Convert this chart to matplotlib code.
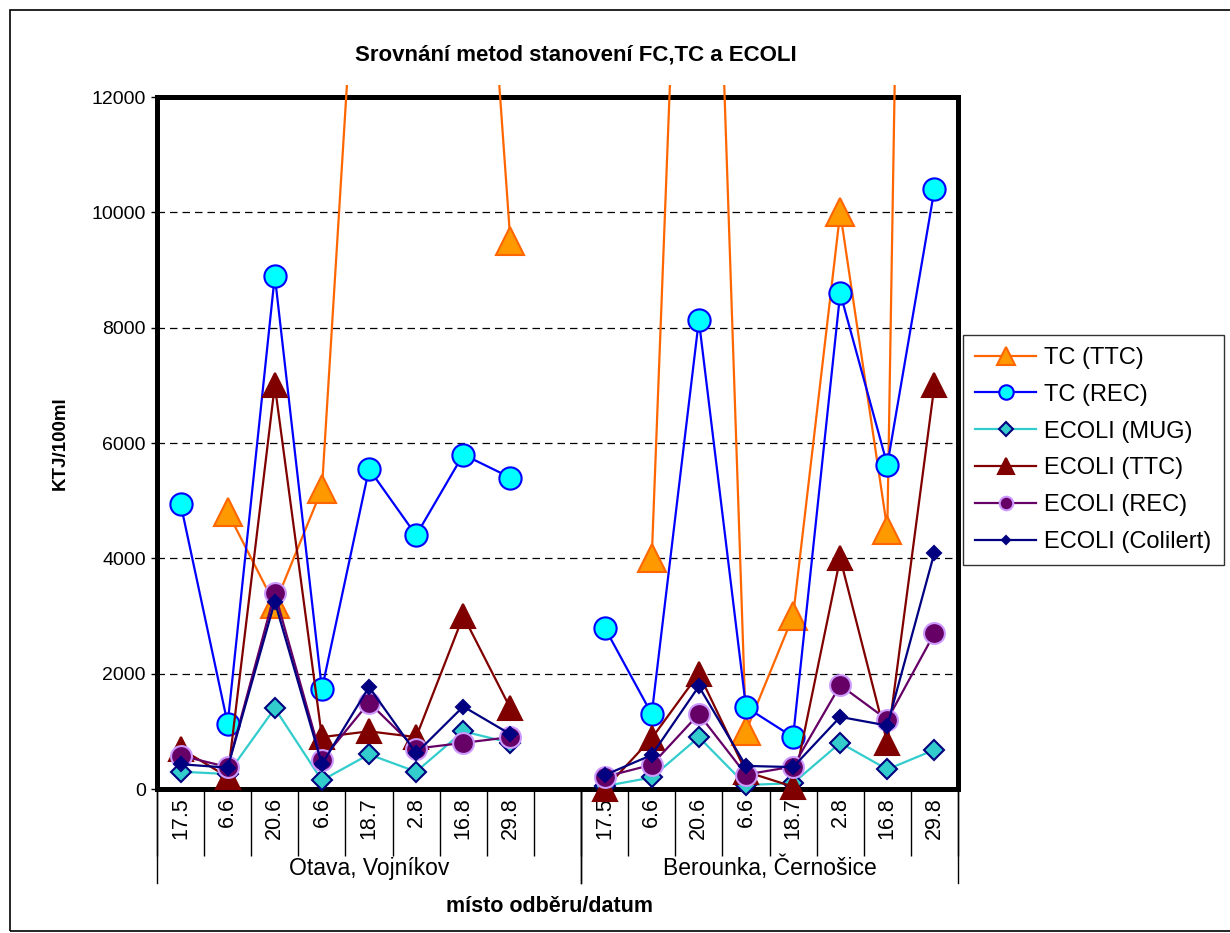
import numpy as np
import matplotlib
matplotlib.use('Agg')
import matplotlib.pyplot as plt
from matplotlib.patches import Rectangle
from matplotlib.transforms import Bbox, TransformedBbox

# ----- data -----
nan = np.nan
dates = ['17.5', '6.6', '20.6', '6.6', '18.7', '2.8', '16.8', '29.8', '',
         '17.5', '6.6', '20.6', '6.6', '18.7', '2.8', '16.8', '29.8']
groups = ['Otava, Vojníkov', 'Berounka, Černošice']
group_slots = [(0, 8), (9, 16)]

tc_ttc = [nan, 4800, 3200, 5200, 18400, 20000, 21000, 9500, nan,
          nan, 4000, 25300, 1000, 3000, 10000, 4500, 54000]
tc_rec = [4950, 1130, 8900, 1730, 5550, 4400, 5800, 5400, nan,
          2800, 1300, 8130, 1420, 900, 8600, 5620, 10400]
ecoli_mug = [300, 260, 1400, 150, 600, 300, 1000, 800, nan,
             50, 200, 900, 70, 100, 800, 340, 680]
ecoli_ttc = [700, 210, 7000, 900, 1000, 900, 3000, 1400, nan,
             0, 880, 2000, 300, 40, 4000, 800, 7000]
ecoli_rec = [580, 380, 3400, 500, 1500, 700, 800, 900, nan,
             210, 420, 1300, 250, 390, 1800, 1200, 2700]
ecoli_colilert = [430, 370, 3250, 430, 1770, 620, 1430, 950, nan,
                  240, 590, 1780, 400, 380, 1250, 1100, 4100]

plt.rcParams['font.family'] = ['Liberation Sans', 'DejaVu Sans']

W, H = 1230, 933
fig = plt.figure(figsize=(W / 100, H / 100), dpi=100)

# plot area in pixels
x0, x1, ytop, ybot = 157, 958, 97, 789
ax = fig.add_axes([x0 / W, 1 - ybot / H, (x1 - x0) / W, (ybot - ytop) / H])

x = np.arange(len(dates))

series = [
    (tc_ttc, 'TC (TTC)', dict(color='#FF6600', marker='^', ms=20, mfc='#FF9900', mec='#FF6600')),
    (tc_rec, 'TC (REC)', dict(color='#0000FF', marker='o', ms=16, mfc='#00FFFF', mec='#0000FF')),
    (ecoli_mug, 'ECOLI (MUG)', dict(color='#33CCCC', marker='D', ms=10.5, mfc='#33CCCC', mec='#000080')),
    (ecoli_ttc, 'ECOLI (TTC)', dict(color='#800000', marker='^', ms=17, mfc='#800000', mec='#800000')),
    (ecoli_rec, 'ECOLI (REC)', dict(color='#660066', marker='o', ms=15, mfc='#660066', mec='#CC99FF')),
    (ecoli_colilert, 'ECOLI (Colilert)', dict(color='#000080', marker='D', ms=7, mfc='#000080', mec='#000080')),
]

# let lines run a little past the top of the plot area, as in the original
clipbox = TransformedBbox(Bbox([[0, -0.05], [1, 1.0175]]), ax.transAxes)
lines = []
for i, (vals, lab, st) in enumerate(series):
    ln, = ax.plot(x, vals, lw=1.6, mew=1.5, label=lab, zorder=3 + i, **st)
    ln.set_clip_box(clipbox)
    lines.append(ln)

ax.set_xlim(-0.5, len(dates) - 0.5)
ax.set_ylim(0, 12000)
ax.set_yticks(np.arange(0, 12001, 2000))
ax.tick_params(axis='y', labelsize=14, length=4, width=1, pad=4)
ax.yaxis.grid(True, color='black', ls=(0, (6, 4)), lw=0.9)
ax.set_axisbelow(True)
for s in ax.spines.values():
    s.set_linewidth(3.6)
    s.set_zorder(2.5)

# category dividers as long major ticks, labels on minor ticks
ax.set_xticks(np.arange(-0.5, len(dates)), labels=[])
ax.tick_params(axis='x', which='major', length=48, width=1, color='black', direction='out')
ax.set_xticks(x, labels=dates, minor=True)
ax.tick_params(axis='x', which='minor', length=0, labelsize=15.5, labelrotation=90, pad=6)
for t in ax.get_xticklabels(minor=True):
    t.set_va('top')

# group separators and group labels
trans = ax.get_xaxis_transform()
sep_len = (883 - ybot) / (ybot - ytop)
for a, b in group_slots:
    for xs in (a - 0.5, b + 0.5):
        ax.plot([xs, xs], [0, -sep_len], color='black', lw=1, transform=trans, clip_on=False)
for (a, b), g in zip(group_slots, groups):
    ax.text((a + b) / 2, -(868 - ybot) / (ybot - ytop), g, transform=trans, ha='center', va='center',
            fontsize=16.5)

fig.text(576 / W, 1 - 55 / H, 'Srovnání metod stanovení FC,TC a ECOLI', ha='center', va='center',
         fontsize=16, fontweight='bold')
fig.text(550 / W, 1 - 907 / H, 'místo odběru/datum', ha='center', va='center',
         fontsize=15.5, fontweight='bold')
fig.text(60 / W, 1 - 443 / H, 'KTJ/100ml', ha='center', va='center', rotation=90,
         fontsize=13.5, fontweight='bold')

leg = fig.legend(handles=lines, loc='upper left', bbox_to_anchor=(963 / W, 1 - 335 / H),
                 fontsize=17, frameon=True, fancybox=False, edgecolor='black',
                 handlelength=2.6, handletextpad=0.35, labelspacing=0.63, borderpad=0.5,
                 markerscale=0.65, borderaxespad=0)
leg.get_frame().set_linewidth(1)

# outer chart border
fig.patches.append(Rectangle((10 / W, 1 - 931 / H), (W + 20) / W, 921 / H, transform=fig.transFigure,
                             fill=False, edgecolor='black', lw=1.2))

fig.savefig('out.png', dpi=100)
